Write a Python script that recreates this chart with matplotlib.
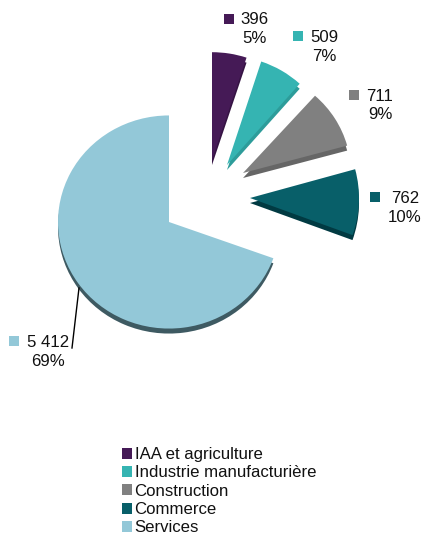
import matplotlib
matplotlib.use('Agg')
import matplotlib.pyplot as plt
from matplotlib.transforms import Affine2D

plt.rcParams['font.family'] = ['Liberation Sans', 'DejaVu Sans']

categories = ['IAA et agriculture', 'Industrie manufacturière', 'Construction', 'Commerce', 'Services']
values = [396, 509, 711, 762, 5412]
percents = [5, 7, 9, 10, 69]

colors = ['#451a56', '#35b4b2', '#808080', '#085f69', '#93c8d8']
dark_colors = ['#361444', '#2d9c9a', '#666666', '#013a42', '#3e5a62']

# layout in pixels, y measured from the top of the picture
W, H = 422, 535
slice_tips = [(212, 160), (227, 165), (243, 173), (250, 198), (169, 222)]
radii = [110, 109, 108, 109, 111]
y_squash = [0.98, 1, 0.96, 1, 0.96]
label_pos = [(254.5, 29), (324, 47), (380, 105.5), (405, 208), (48, 352)]
marker_pos = [(229, 18.5), (298, 35.5), (354, 95), (375, 197), (14, 341)]
depth = 5

fig = plt.figure(figsize=(W / 100, H / 100), dpi=100)
ax = fig.add_axes([0, 0, 1, 1])


def draw_pie(cols, dy):
    wedges, _ = ax.pie(values, colors=cols, startangle=90, counterclock=False,
                       radius=100, frame=True)
    for w, tip, r, sq in zip(wedges, slice_tips, radii, y_squash):
        cx, cy = tip[0], H - tip[1] - dy
        w.set_center((cx, cy))
        w.set_radius(r)
        # some slices are a bit flatter than a true circle
        w.set_transform(Affine2D().translate(-cx, -cy).scale(1, sq).translate(cx, cy) + ax.transData)
    return wedges


draw_pie(dark_colors, depth)
wedges = draw_pie(colors, 0)

ax.set_xlim(0, W)
ax.set_ylim(0, H)
ax.set_aspect('equal')
ax.axis('off')

for v, p, lp, mp, c in zip(values, percents, label_pos, marker_pos, colors):
    txt = f'{v:,}'.replace(',', ' ') + f'\n{p}%'
    ax.text(lp[0], H - lp[1], txt, ha='center', va='center', fontsize=12.1,
            color='#111111', linespacing=1.26)
    ax.plot(mp[0], H - mp[1], 's', ms=6.8, mew=0, color=c)

# leader line of the big slice
ax.plot([79, 72], [H - 288, H - 348], color='black', lw=1)

ax.legend(wedges, categories, loc='upper left', bbox_to_anchor=(122 / W, 1 - 447 / H),
          frameon=False, fontsize=12.1, labelcolor='#111111', borderpad=0, borderaxespad=0,
          handlelength=0.62, handleheight=0.62, handletextpad=0.13, labelspacing=0.2)

fig.savefig('out.png', dpi=100)
